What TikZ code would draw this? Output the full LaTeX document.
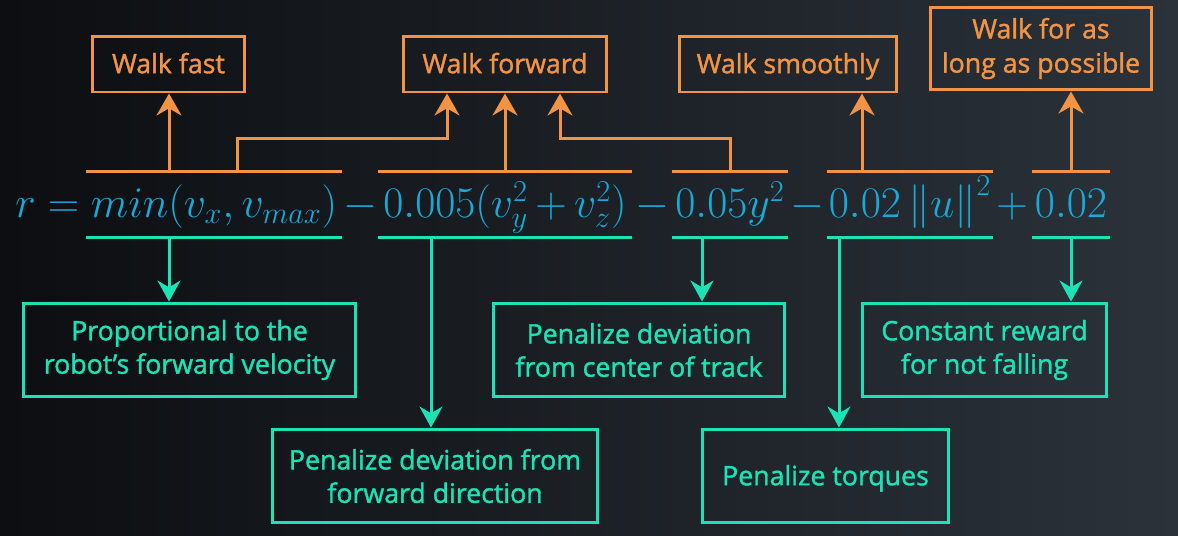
\documentclass[tikz,border=0pt]{standalone}
\usepackage{fontspec}
\newfontfamily\labelfont[FakeBold=1.4]{Open Sans}
\usetikzlibrary{arrows.meta}

\definecolor{wOrange}{HTML}{F39344}
\definecolor{wTeal}{HTML}{1BE3B6}
\definecolor{wBlue}{HTML}{17A9D8}
\definecolor{bgDark}{HTML}{0C0E11}
\definecolor{bgLight}{HTML}{2B323A}

\tikzset{
  term/.style={inner sep=0pt, text height=0.9cm, text depth=0.4cm, anchor=base,
    text=wBlue, font=\fontsize{26.5}{30}\selectfont},
  goalbox/.style={draw=wOrange, text=wOrange, line width=0.06cm, align=center,
    minimum height=1.12cm, font=\labelfont\fontsize{15.2}{19.5}\selectfont},
  oneline/.style={text height=11pt, text depth=0.5pt},
  notebox/.style={draw=wTeal, text=wTeal, line width=0.06cm, align=center,
    minimum height=1.88cm, font=\labelfont\fontsize{15.2}{19}\selectfont},
  goalline/.style={wOrange, line width=0.06cm},
  noteline/.style={wTeal, line width=0.06cm},
  goalarrow/.style={goalline, -{Stealth[length=0.44cm, width=0.5cm]}},
  notearrow/.style={noteline, -{Stealth[length=0.42cm, width=0.46cm]}}
}

\begin{document}
\begin{tikzpicture}[x=0.02cm, y=-0.02cm]
  \shade[left color=bgDark, right color=bgLight] (0,0) rectangle (1178,535);
  \useasboundingbox (0,0) rectangle (1178,535);

  % reward formula, one node per term
  \node[term, anchor=base west] (lhs) at (15,217) {$r=$};
  \foreach \x/\w/\t [count=\i] in {214/5.12/{min(v_x, v_{max})},
    505/5.08/{0.005(v_y^2\,{+}\,v_z^2)}, 730/2.32/{0.05y^2},
    910/3.32/{0.02\left\|u\right\|^2}, 1071/1.56/{0.02}} {
    \node[term, minimum width=\w cm] (t\i) at (\x,217) {$\t$};
    \draw[goalline] (t\i.north west) -- (t\i.north east);
    \draw[noteline] (t\i.south west) -- (t\i.south east);
  }
  \foreach \x/\o [count=\i] in {360/-, 652/-, 807/-, 1012/+}
    \node[term] (op\i) at (\x,217) {$\o$};

  % goals
  \node[goalbox, oneline, minimum width=3.06cm] (fast) at (168.5,64) {Walk fast};
  \node[goalbox, oneline, minimum width=4.08cm] (fwd) at (505,64) {Walk forward};
  \node[goalbox, oneline, minimum width=4.36cm] (smooth) at (788,64) {Walk smoothly};
  \node[goalbox, minimum width=4.44cm, minimum height=1.66cm] (long) at (1041,48.5)
    {Walk for as\\long as possible};

  % what each term means
  \node[notebox, minimum width=6.66cm] (prop) at (189.5,350)
    {Proportional to the\\robot’s forward velocity};
  \node[notebox, minimum width=5.84cm] (ctr) at (639,350)
    {Penalize deviation\\from center of track};
  \node[notebox, minimum width=4.90cm] (cst) at (984.5,350)
    {Constant reward\\for not falling};
  \node[notebox, minimum width=6.52cm] (fdir) at (435,476)
    {Penalize deviation from\\forward direction};
  \node[notebox, oneline, minimum width=4.94cm] (trq) at (825.5,476) {Penalize torques};

  \foreach \t/\x/\b in {t1/169/fast, t2/505/fwd, t4/862/smooth, t5/1071/long}
    \draw[goalarrow] (\t.north -| \x,0) -- (\x,0 |- \b.south);
  \draw[goalarrow] (t1.north -| 237,0) |- (447,138) -- (447,0 |- fwd.south);
  \draw[goalarrow] (t3.north) |- (560,138) -- (560,0 |- fwd.south);

  \foreach \t/\x/\b in {t1/169/prop, t2/431/fdir, t3/702/ctr, t4/839/trq, t5/1071/cst}
    \draw[notearrow] (\t.south -| \x,0) -- (\x,0 |- \b.north);
\end{tikzpicture}
\end{document}
